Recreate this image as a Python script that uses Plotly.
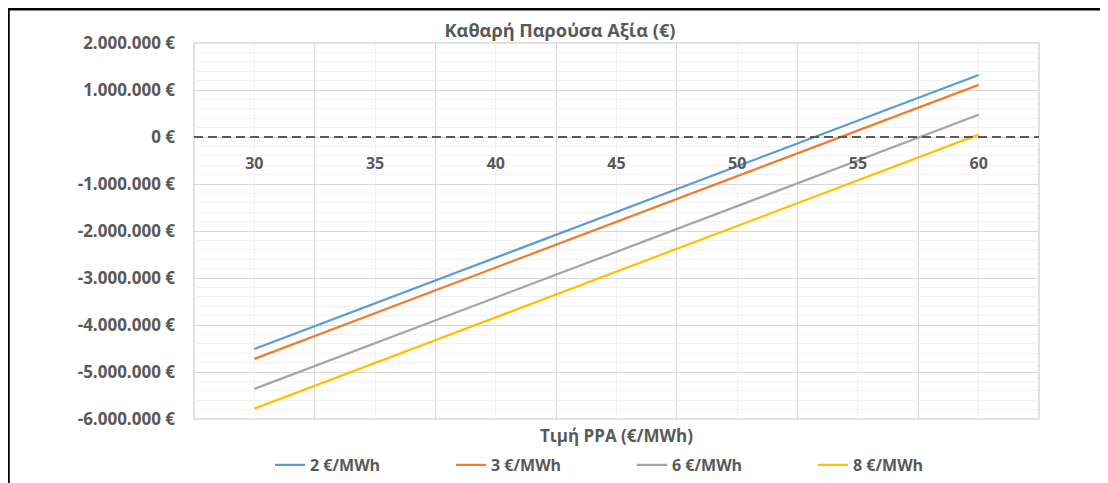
import plotly.graph_objects as go

# PPA price (€/MWh)
ppa_price = [30, 35, 40, 45, 50, 55, 60]

# NPV (€) for each balancing cost scenario
npv_2 = [-4510000, -3540000, -2570000, -1600000, -630000, 350000, 1320000]
npv_3 = [-4720000, -3750000, -2780000, -1810000, -840000, 140000, 1110000]
npv_6 = [-5360000, -4390000, -3420000, -2450000, -1470000, -500000, 475000]
npv_8 = [-5780000, -4810000, -3840000, -2870000, -1890000, -920000, 50000]

series_names = ['2 €/MWh', '3 €/MWh', '6 €/MWh', '8 €/MWh']
series_colors = ['#5B9BD5', '#ED7D31', '#A5A5A5', '#FFC000']

y_tickvals = [2000000, 1000000, 0, -1000000, -2000000, -3000000, -4000000, -5000000, -6000000]
y_ticktext = ['2.000.000 €', '1.000.000 €', '0 €', '-1.000.000 €', '-2.000.000 €',
              '-3.000.000 €', '-4.000.000 €', '-5.000.000 €', '-6.000.000 €']

font_family = 'Open Sans'
text_color = '#595959'

fig = go.Figure()
for name, values, color in zip(series_names, [npv_2, npv_3, npv_6, npv_8], series_colors):
    fig.add_trace(go.Scatter(x=ppa_price, y=values, mode='lines', name='<b>%s</b>' % name,
                             line=dict(color=color, width=2.25)))

# page has an 8px body margin, so the figure is drawn 8px in from the corner
W, H = 1100, 475
ml, mr, mt, mb = 186, 69, 35, 64
pw, ph = W - ml - mr, H - mt - mb

fig.update_layout(
    width=W, height=H,
    margin=dict(l=ml, r=mr, t=mt, b=mb, autoexpand=False),
    paper_bgcolor='white', plot_bgcolor='white',
    font=dict(family=font_family, color=text_color, size=16),
    title=dict(text='<b>Καθαρή Παρούσα Αξία (€)</b>', x=552 / W, xref='container', xanchor='center',
               y=1 - 23 / H, yanchor='middle', font=dict(size=18.2, color=text_color)),
    showlegend=True,
    legend=dict(orientation='h', x=(304 - 42 - ml) / pw, xanchor='left', y=(ph - (457 - mt)) / ph,
                yanchor='middle', entrywidth=136, entrywidthmode='pixels',
                font=dict(size=16, color=text_color), traceorder='normal'),
)

fig.update_xaxes(
    range=[27.5, 62.5], tickvals=ppa_price, ticktext=['<b>%d</b>' % v for v in ppa_price],
    anchor='free', position=0.75, showline=False, zeroline=False, ticks='',
    ticklabelstandoff=15, tickfont=dict(size=16, color=text_color),
    showgrid=True, gridcolor='#F2F2F2', gridwidth=1,
    minor=dict(tick0=27.5, dtick=5, showgrid=True, gridcolor='#D9D9D9', gridwidth=1),
)
fig.update_yaxes(
    range=[-6000000, 2000000], tickvals=y_tickvals, ticktext=['<b>%s</b>' % t for t in y_ticktext],
    showline=False, zeroline=False, ticks='', ticklabelstandoff=18,
    tickfont=dict(size=17, color=text_color),
    showgrid=True, gridcolor='#D9D9D9', gridwidth=1,
    minor=dict(dtick=200000, showgrid=True, gridcolor='#F2F2F2', gridwidth=1),
)

# x-axis title (sits below the plot area)
fig.add_annotation(text='<b>Τιμή PPA (€/MWh)</b>', xref='paper', yref='paper', x=0.5,
                   y=-(427 - (mt + ph)) / ph, xanchor='center', yanchor='middle',
                   showarrow=False, font=dict(size=17, color=text_color))

# plot-area frame
fig.add_shape(type='rect', xref='paper', yref='paper', x0=0, x1=1, y0=0, y1=1,
              line=dict(color='#D9D9D9', width=1.5), layer='below')
# dashed zero line (the category axis)
fig.add_shape(type='line', xref='paper', yref='y', x0=0, x1=1, y0=0, y1=0,
              line=dict(color='#595959', width=2, dash='9px,5px'), layer='above')

# black outer frame (left and top edges of the cropped box)
bx = (0.5 - ml) / pw
by = 1 + (mt - 1.2) / ph
fig.add_shape(type='path', xref='paper', yref='paper',
              path='M %f %f L %f %f L %f %f' % (bx, -mb / ph - 0.05, bx, by, 1 + (mr + 5) / pw, by),
              line=dict(color='black', width=2.5))

fig.write_html('out.html')
